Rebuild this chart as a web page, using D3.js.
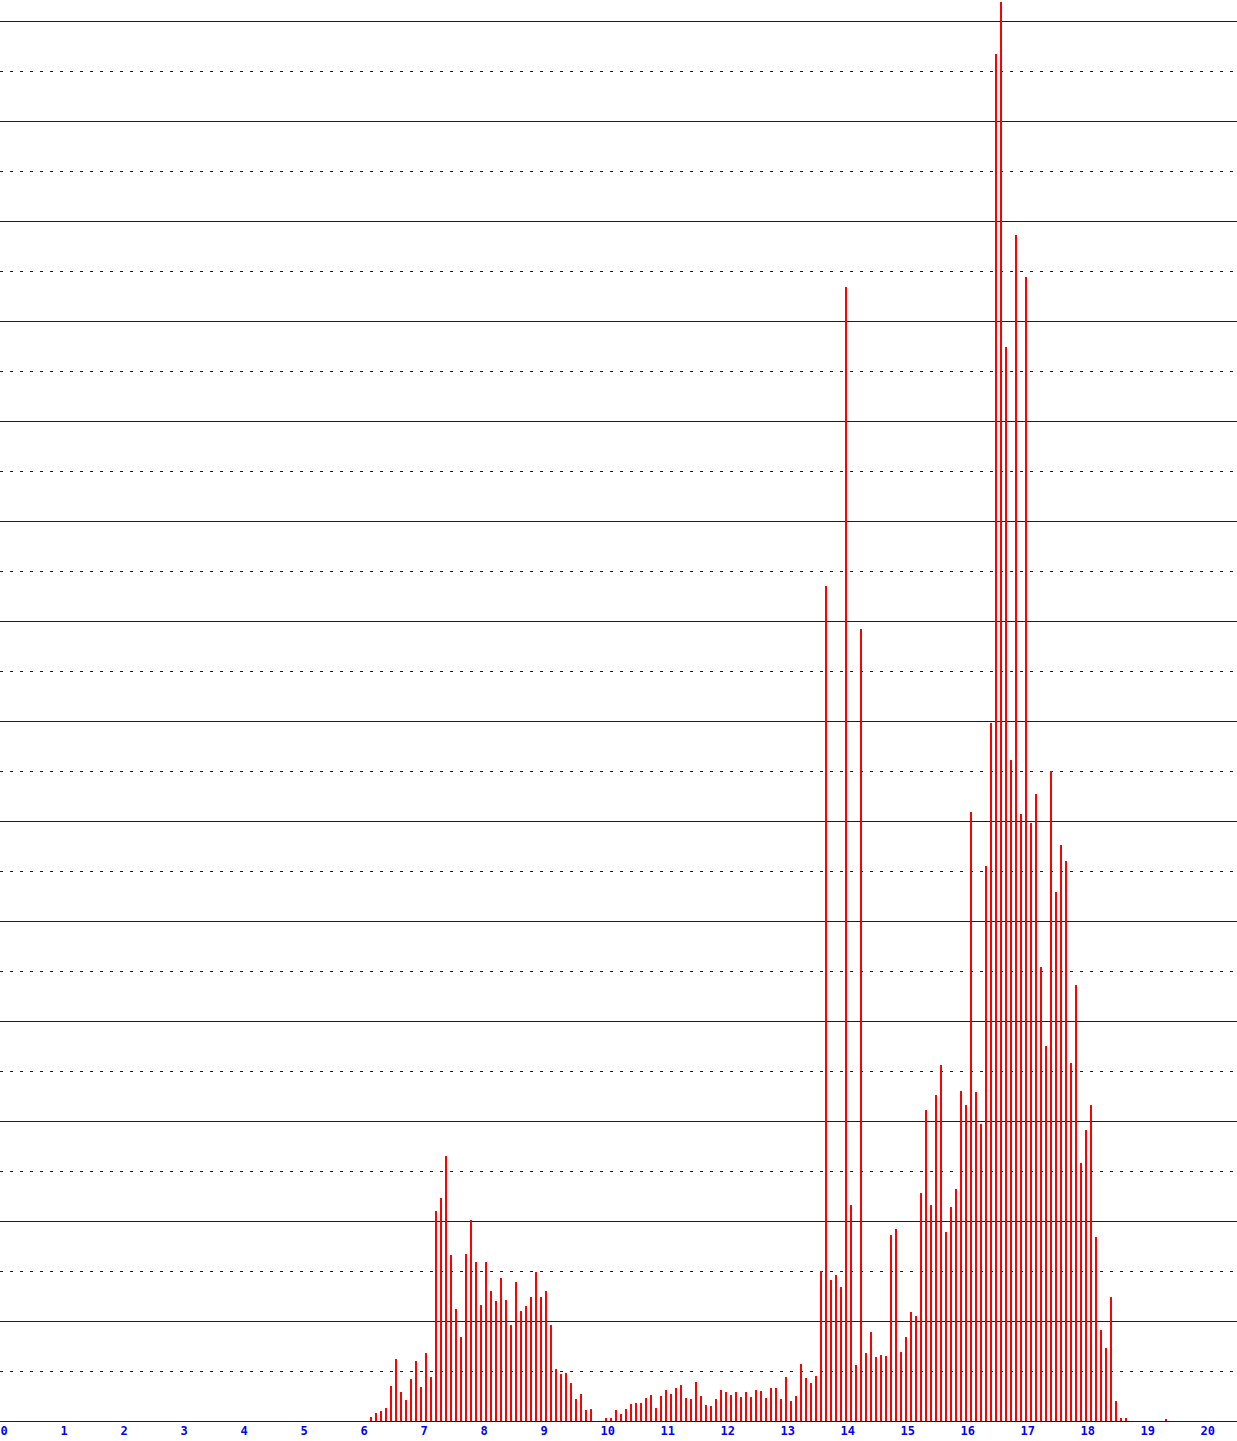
<!DOCTYPE html>
<html>
<head>
<meta charset="utf-8">
<script src="https://cdn.jsdelivr.net/npm/d3@7/dist/d3.min.js"></script>
<style>
html,body{margin:0;padding:0;background:#fff;overflow:hidden;}
svg{display:block;}
</style>
</head>
<body>
<svg id="chart" width="1237" height="1441"></svg>
<script>
// x tick labels (whole units)
const tickLabels = ["0","1","2","3","4","5","6","7","8","9","10","11","12","13","14","15","16","17","18","19","20"];
// bins are 1/12 of a unit wide; first non-empty bin index
const binsPerUnit = 12;
const firstBin = 74;
// bar heights, one per bin starting at firstBin
const counts = [
  4, 8, 10, 13, 35, 62, 29, 21, 42, 60, 34, 68, 44, 210, 223, 265,
  166, 112, 84, 167, 201, 159, 116, 159, 130, 120, 143, 121, 96, 139, 110, 115,
  124, 149, 124, 130, 96, 52, 47, 48, 38, 22, 27, 11, 12, 0, 0, 3,
  3, 11, 7, 12, 17, 18, 18, 23, 26, 13, 25, 31, 27, 33, 36, 23,
  22, 39, 25, 16, 15, 22, 31, 29, 26, 29, 24, 29, 24, 31, 30, 23,
  33, 33, 22, 44, 20, 25, 57, 43, 38, 45, 150, 835, 141, 146, 134, 1134,
  216, 56, 792, 68, 89, 64, 66, 65, 186, 192, 69, 84, 109, 105, 228, 311,
  216, 326, 356, 189, 214, 232, 330, 316, 609, 329, 297, 555, 698, 1367, 1419, 1074,
  661, 1186, 607, 1144, 598, 627, 454, 375, 650, 529, 576, 560, 358, 436, 258, 291,
  316, 184, 91, 73, 124, 20, 3, 3, 0, 0, 0, 0, 0, 0, 0, 2
];
const gridStep = 50;   // dotted every 50, solid every 100
const yMax = 1421;

const W = 1237, H = 1441;
const baseY = 1421;
const svg = d3.select("#chart");

const x = d3.scaleLinear().domain([0, 20]).range([0, 1200]);
const y = d3.scaleLinear().domain([0, yMax]).range([baseY, 0]);

svg.append("rect").attr("width", W).attr("height", H).attr("fill", "#fff");

// grid
const gridVals = d3.range(gridStep, 1400 + 1, gridStep);
svg.append("g").selectAll("line").data(gridVals).join("line")
  .attr("x1", 0).attr("x2", W)
  .attr("y1", d => Math.round(y(d)) + 0.5).attr("y2", d => Math.round(y(d)) + 0.5)
  .attr("stroke", "#0000ff").attr("stroke-width", 1)
  .attr("stroke-dasharray", d => (d % 100 === 0) ? null : "3,7")
  .attr("shape-rendering", "crispEdges");

// bars
const data = counts.map((c, i) => ({ v: (firstBin + i) / binsPerUnit, c }));
svg.append("g").selectAll("rect").data(data.filter(d => d.c > 0)).join("rect")
  .attr("x", d => Math.round(x(d.v)))
  .attr("width", 2)
  .attr("y", d => y(d.c))
  .attr("height", d => y(0) - y(d.c))
  .attr("fill", "#ff0000")
  .attr("shape-rendering", "crispEdges");

// x axis
const axis = d3.axisBottom(x)
  .tickValues(d3.range(0, 21))
  .tickFormat(d => tickLabels[d])
  .tickSize(0).tickPadding(0);
const g = svg.append("g").attr("transform", `translate(0,${baseY})`).call(axis);
g.select(".domain").remove();
svg.append("line").attr("x1", 0).attr("x2", W)
  .attr("y1", baseY + 0.5).attr("y2", baseY + 0.5)
  .attr("stroke", "#0000ff").attr("stroke-width", 1)
  .attr("shape-rendering", "crispEdges");
g.selectAll("text")
  .attr("text-anchor", "start")
  .attr("dy", null)
  .attr("y", 13.5)
  .attr("fill", "#0000ff")
  .style("font-family", "'DejaVu Sans Mono', monospace")
  .style("font-weight", "bold")
  .style("font-size", "12px");
</script>
</body>
</html>
